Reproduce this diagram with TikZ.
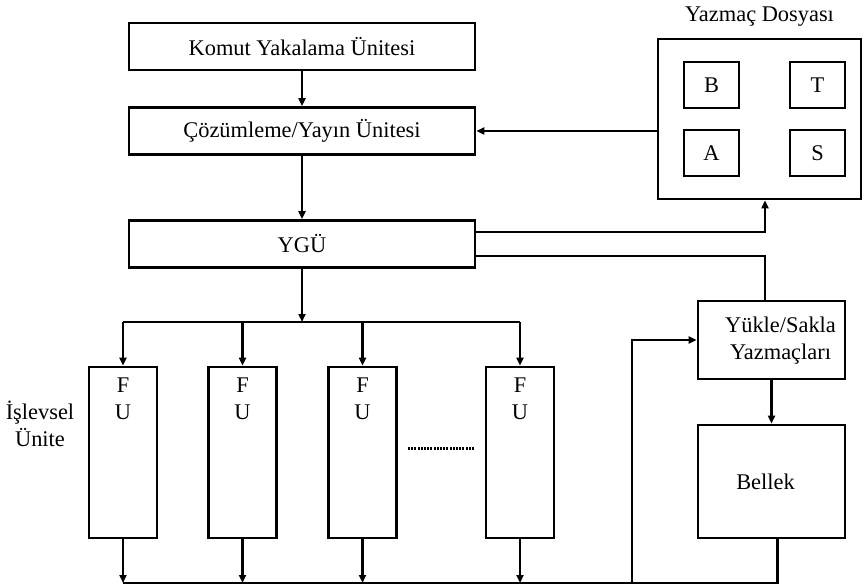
\documentclass[tikz,border=0pt]{standalone}
\usepackage{fontspec}
\setmainfont{Liberation Serif}
\usetikzlibrary{arrows.meta, calc, positioning}
\tikzset{unitbox/.style={draw, line width=1.4pt, inner sep=0pt, anchor=center, minimum width=173pt, minimum height=23.5pt}}
\tikzset{regbox/.style={draw, line width=1.4pt, inner sep=0pt, anchor=center, minimum width=27.5pt, minimum height=23pt}}
\tikzset{fubox/.style={draw, line width=1.4pt, inner sep=0pt, anchor=center, minimum width=34pt, minimum height=85.5pt}}
\tikzset{link/.style={line width=1.3pt, -{Triangle[length=4pt, width=3.5pt]}}}
\tikzset{wire/.style={line width=1.3pt}}

\begin{document}
\begin{tikzpicture}[x=0.5pt, y=-0.5pt, font=\fontsize{11.2}{13.5}\selectfont]
\useasboundingbox (0,0) rectangle (865,587);

\node[unitbox] (Komut) at (302,46.5) {Komut Yakalama Ünitesi};
\node[unitbox] (Cozum) at (302,131) {Çözümleme/Yayın Ünitesi};
\node[unitbox] (YGU)   at (302,244) {YGÜ};

\node[draw, line width=1.4pt, anchor=center, minimum width=101.5pt, minimum height=80pt] (Dosya) at (759.5,119) {};
\node[above = 2pt of Dosya] (DosyaL) {Yazmaç Dosyası};
\node[regbox] (B) at (711.5,85)  {B};
\node[regbox] (T) at (817.5,85)  {T};
\node[regbox] (A) at (711.5,153) {A};
\node[regbox] (S) at (817.5,153) {S};

\node[draw, line width=1.4pt, anchor=center, align=center, minimum width=73.5pt, minimum height=39pt, text depth=2pt] (Yukle) at (771.5,340) {\hspace*{9pt}Yükle/Sakla\\\hspace*{9pt}Yazmaçları};
\node[draw, line width=1.4pt, anchor=center, minimum width=73.5pt, minimum height=56.5pt] (Bellek) at (771.5,481.5) {Bellek\hspace*{6pt}};

\foreach \n/\x in {1/123, 2/242.5, 3/362.5, 4/520}{
    \node[fubox] (FU\n) at (\x,452.5) {};
    \node[below = 6pt of FU\n.north, align=center, inner sep=0pt] (FUL\n) {F\\U};
}
\node[align=center] (Islev) at (40,424) {İşlevsel\\Ünite};
\draw[line width=1.5pt, dash pattern=on 1pt off 0.6pt] (408,448) -- (475,448);

\coordinate (Split) at (302,322);
\coordinate (Bus) at (632,583);
\coordinate (Tap) at (765,0);

\draw[link] (Komut) -- (Cozum);
\draw[link] (Cozum) -- (YGU);
\draw[link] (Dosya.west |- Cozum.east) -- (Cozum.east);
\draw[link] ($(YGU.east)+(0,-12)$) -| (Tap |- Dosya.south);
\draw[wire] ($(YGU.east)+(0,12)$) -| (Tap |- Yukle.north);
\draw[link] (YGU) -- (Split);
\draw[wire] (FU1.north |- Split) -- (FU4.north |- Split);
\foreach \n in {1,...,4}{
    \draw[link] (FU\n.north |- Split) -- (FU\n.north);
    \draw[link] (FU\n.south) -- (FU\n.south |- Bus);
}
\draw[wire] (FU1.south |- Bus) -| ([xshift=3pt]Bellek.south);
\draw[link] (Bus) |- (Yukle.west);
\draw[link] (Yukle) -- (Bellek);

\end{tikzpicture}
\end{document}
